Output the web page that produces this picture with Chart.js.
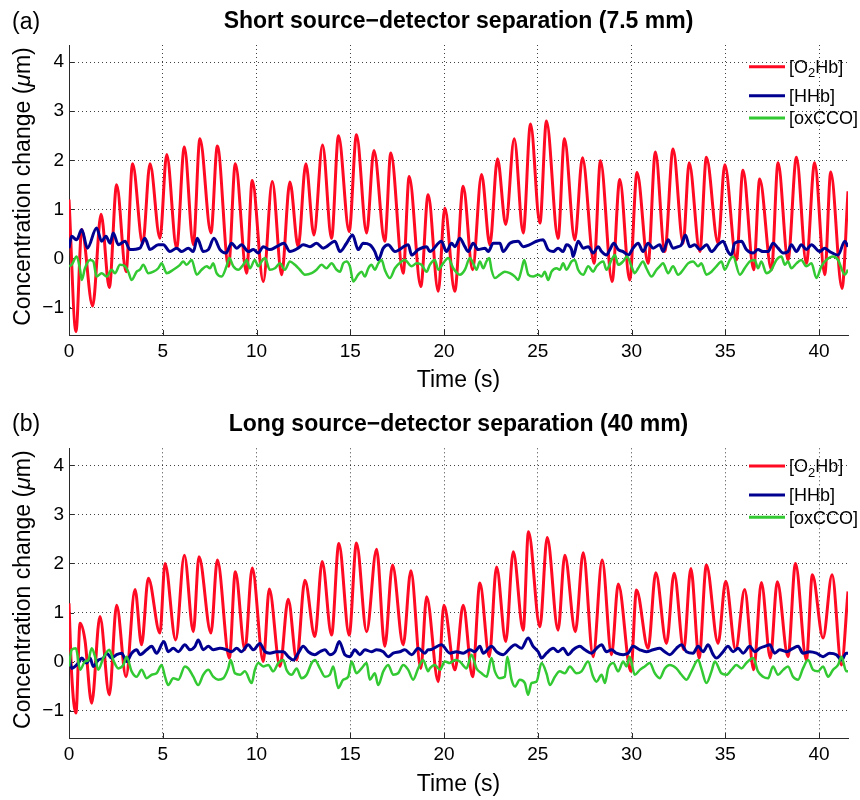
<!DOCTYPE html>
<html lang="en">
<head>
<meta charset="UTF-8">
<title>Short and long source-detector separation</title>
<script src="https://cdn.jsdelivr.net/npm/chart.js"></script>
<style>
  body { margin: 0; background: #fff; }
  canvas { display: block; }
</style>
</head>
<body>
<canvas id="chartA" width="860" height="400"></canvas>
<canvas id="chartB" width="860" height="400"></canvas>
<script>
// values: time (s) and concentration change (uM)

// (a) short separation, 7.5 mm
const aO2HbT = [0, 0.37, 0.68, 1.26, 1.71, 2.15, 2.54, 3.04, 3.39, 3.93, 4.32, 4.85, 5.21, 5.74, 6.15, 6.63, 6.98, 7.57, 7.91, 8.51, 8.87, 9.47, 9.77, 10.36, 10.84, 11.34, 11.78, 12.22, 12.63, 13.06, 13.52, 14.0, 14.37, 14.94, 15.33, 15.87, 16.26, 16.84, 17.16, 17.82, 18.14, 18.76, 19.15, 19.69, 20.04, 20.57, 21.02, 21.52, 22.0, 22.44, 22.85, 23.29, 23.74, 24.22, 24.61, 25.11, 25.46, 26.08, 26.42, 26.97, 27.38, 28.0, 28.34, 28.96, 29.37, 29.90, 30.29, 30.88, 31.27, 31.77, 32.21, 32.75, 33.07, 33.64, 33.99, 34.61, 34.97, 35.59, 35.94, 36.51, 36.83, 37.46, 37.81, 38.34, 38.79, 39.32, 39.76, 40.30, 40.62, 41.22, 41.54];
const aO2HbV = [1.20, -1.49, 0.59, -0.97, 0.90, -0.59, 1.50, -0.27, 1.93, 0.30, 1.93, 0.41, 2.12, 0.21, 2.27, 0.28, 2.44, 0.52, 2.29, -0.16, 1.93, -0.30, 1.59, -0.47, 1.57, -0.33, 1.56, 0.24, 1.93, 0.48, 2.31, 0.41, 2.50, 0.55, 2.52, 0.52, 2.20, 0.35, 2.15, -0.30, 1.67, -0.57, 1.30, -0.67, 1.03, -0.67, 1.47, -0.23, 1.71, 0.28, 2.03, 0.69, 2.44, 0.52, 2.74, 0.72, 2.80, 0.41, 2.44, 0.38, 2.05, -0.10, 1.99, -0.47, 1.61, -0.44, 1.75, -0.10, 2.17, 0.14, 2.23, 0.31, 1.95, 0.14, 2.06, 0.31, 1.91, -0.03, 1.80, -0.23, 1.62, -0.23, 1.95, -0.03, 2.06, -0.10, 1.95, -0.33, 1.76, -0.61, 1.37];

const aHHbT = [0, 0.14, 0.41, 0.68, 0.98, 1.47, 1.74, 1.97, 2.19, 2.36, 2.63, 2.99, 3.25, 3.78, 4.05, 4.32, 4.76, 5.03, 5.38, 5.74, 6.01, 6.36, 6.63, 6.84, 7.16, 7.43, 7.73, 8.05, 8.37, 8.67, 8.94, 9.20, 9.56, 9.83, 10.09, 10.36, 10.71, 11.07, 11.46, 11.78, 12.22, 12.49, 12.85, 13.20, 13.56, 14.18, 14.45, 14.80, 15.12, 15.42, 15.69, 16.04, 16.31, 16.49, 16.76, 17.02, 17.38, 18.09, 18.27, 18.62, 19.07,
  19.24, 19.86, 20.13, 20.40, 20.58, 20.84, 21.11, 21.29, 21.55, 21.82, 22.18, 22.36, 22.62, 22.98, 23.15, 23.51, 23.95, 24.22, 24.57, 24.93, 25.28, 25.55, 25.82, 26.08, 26.35, 26.53, 26.80, 26.88, 27.15, 27.42, 27.69, 27.95, 28.22, 28.40, 28.66, 28.84, 29.05, 29.29, 29.55, 29.82, 30.08, 30.35, 30.61, 30.88, 31.15, 31.50, 31.68, 31.95, 32.21, 32.48, 32.66, 32.87, 33.10, 33.37, 33.64, 34.00, 34.26, 34.61, 34.88, 35.14, 35.32, 35.50, 35.86, 36.12, 36.48, 36.74, 37.01, 37.28, 37.54, 37.81, 38.08, 38.34, 38.52, 38.79, 39.05, 39.32, 39.59, 40.03, 40.30, 40.56, 41.01, 41.37, 41.54];
const aHHbV = [0.21, 0.45, 0.38, 0.59, 0.21, 0.62, 0.35, 0.45, 0.31, 0.52, 0.28, 0.35, 0.18, 0.21, 0.41, 0.18, 0.28, 0.28, 0.14, 0.21, 0.14, 0.21, 0.14, 0.41, 0.14, 0.18, 0.41, 0.18, 0.11, 0.31, 0.21, 0.28, 0.14, 0.18, 0.11, 0.24, 0.18, 0.24, 0.31, 0.14, 0.21, 0.28, 0.24, 0.31, 0.21, 0.35, 0.14, 0.31, 0.48, 0.18, 0.31, 0.28, 0.14, -0.03, 0.21, 0.28, 0.14, 0.28, 0.07, 0.18, 0.24,
  0.14, 0.35, 0.14, 0.31, 0.24, 0.41, 0.24, 0.14, 0.31, 0.18, 0.21, 0.14, 0.31, 0.31, 0.14, 0.31, 0.35, 0.24, 0.28, 0.35, 0.38, 0.18, 0.14, 0.21, 0.14, 0.28, 0.18, 0.04, 0.35, 0.21, 0.24, 0.11, 0.24, 0.14, 0.07, 0.18, 0.31, 0.18, 0.14, 0.07, 0.21, 0.31, 0.14, 0.31, 0.21, 0.28, 0.14, 0.38, 0.21, 0.24, 0.28, 0.48, 0.24, 0.28, 0.18, 0.28, 0.14, 0.28, 0.35, 0.14, 0.07, 0.31, 0.35, 0.18, 0.11, 0.18, 0.14, 0.14, 0.31, 0.21, 0.11, 0.14, 0.28, 0.14, 0.28, 0.18, 0.28, 0.14, 0.21, 0.14, 0.07, 0.35, 0.24];

const aCCOT = [0, 0.14, 0.41, 0.59, 0.68, 0.85, 1.12, 1.30, 1.47, 1.74, 2.01, 2.27, 2.45, 2.72, 2.99, 3.16, 3.34, 3.61, 3.78, 3.96, 4.23, 4.50, 4.76, 4.94, 5.21, 5.56, 5.92, 6.09, 6.27, 6.54, 6.81, 7.07, 7.34, 7.52, 7.69, 7.87, 8.14, 8.40, 8.55, 8.76, 9.03, 9.29, 9.47, 9.65, 9.91, 10.09, 10.27, 10.45, 10.71, 10.98, 11.25, 11.51, 11.78, 12.05, 12.31, 12.58, 12.94, 13.20, 13.47, 13.73, 14.00, 14.27, 14.45, 14.62, 14.80, 14.98, 15.16, 15.42, 15.60, 15.78, 15.96, 16.13, 16.31, 16.49, 16.67, 16.84, 17.11, 17.38, 17.73, 17.91, 18.27, 18.53, 18.80, 19.07,
  19.24, 19.51, 19.69, 19.95, 20.22, 20.49, 20.84, 21.11, 21.38, 21.55, 21.73, 21.91, 22.09, 22.26, 22.41, 22.53, 22.71, 22.98, 23.24, 23.51, 23.78, 23.95, 24.13, 24.27, 24.49, 24.75, 25.02, 25.20, 25.37, 25.55, 25.73, 26.00, 26.17, 26.35, 26.53, 26.80, 26.97, 27.15, 27.42, 27.69, 27.95, 28.13, 28.49, 28.66, 28.93, 29.11, 29.29, 29.55, 29.76, 29.99, 30.17, 30.35, 30.61, 30.79, 31.06, 31.33, 31.50, 31.68, 31.95, 32.21, 32.48, 32.75, 33.01, 33.28, 33.55, 33.72, 33.99, 34.26, 34.52, 34.79, 34.97, 35.24, 35.41, 35.77, 36.03, 36.30, 36.57, 36.74, 36.92, 37.19, 37.46, 37.72, 37.99, 38.17, 38.34, 38.52, 38.79, 39.05, 39.32, 39.59, 39.86, 40.12, 40.39, 40.74, 41.01, 41.37, 41.54];
const aCCOV = [-0.16, -0.13, 0.04, -0.23, -0.44, -0.20, -0.03, -0.06, -0.37, -0.30, -0.37, -0.23, -0.30, -0.13, -0.16, -0.27, -0.44, -0.27, -0.23, -0.13, -0.30, -0.27, -0.20, -0.10, -0.30, -0.23, -0.13, -0.06, -0.13, -0.03, -0.33, -0.23, -0.16, -0.20, -0.10, -0.30, -0.37, -0.16, 0.01, -0.16, -0.23, -0.13, -0.03, -0.20, -0.03, -0.16, -0.06, 0.01, -0.23, -0.20, -0.10, -0.23, -0.06, -0.13, -0.23, -0.33, -0.30, -0.23, -0.13, -0.20, -0.10, -0.23, -0.27, -0.10, -0.06, -0.16, -0.47, -0.33, -0.27, -0.37, -0.20, -0.13, -0.23, -0.10, -0.03, -0.23, -0.40, -0.20, -0.06, -0.03, -0.16, -0.10, -0.13, -0.27,
  -0.13, -0.03, -0.23, -0.10, 0.01, -0.20, -0.33, -0.23, 0.01, -0.10, -0.23, -0.06, -0.20, -0.06, 0.01, -0.23, -0.40, -0.33, -0.27, -0.30, -0.37, -0.44, -0.23, -0.03, -0.33, -0.37, -0.33, -0.37, -0.27, -0.44, -0.27, -0.20, -0.23, -0.10, -0.23, -0.06, -0.03, -0.23, -0.33, -0.16, -0.27, -0.16, -0.06, -0.23, -0.03, 0.07, -0.13, -0.06, 0.04, -0.16, -0.30, -0.20, -0.06, -0.20, -0.37, -0.23, -0.16, -0.10, -0.30, -0.16, -0.33, -0.23, -0.10, -0.06, -0.16, -0.10, -0.33, -0.27, -0.16, -0.06, -0.23, -0.03, 0.04, -0.33, -0.20, -0.06, -0.03, -0.20, -0.06, -0.30, -0.23, -0.03, 0.04, -0.13, -0.06, -0.20, -0.10, -0.03, -0.16, -0.10, -0.40, -0.16, -0.03, 0.04, -0.03, -0.33, -0.23];

// (b) long separation, 40 mm
const bO2HbT = [0, 0.14, 0.37, 0.59, 0.85, 1.21, 1.65, 2.15, 2.54, 3.04, 3.52, 3.87, 4.23, 4.85, 5.12, 5.69, 6.15, 6.63, 6.93, 7.57, 7.91, 8.55, 8.87, 9.38, 9.77, 10.36, 10.68, 11.25, 11.69, 12.14, 12.58, 13.11, 13.50, 14.0, 14.39, 14.94, 15.33, 15.87, 16.40, 16.84, 17.25, 17.82, 18.23, 18.76, 19.07, 19.69, 19.99, 20.58, 21.02, 21.52, 21.91, 22.41, 22.80, 23.29, 23.69, 24.22, 24.50, 25.11, 25.50, 26.08, 26.44, 27.0, 27.42, 27.95, 28.43, 28.93, 29.29, 29.96, 30.26, 30.88, 31.29, 31.86, 32.27, 32.78, 33.16, 33.60, 33.99, 34.61, 35.02, 35.55, 36.03, 36.51, 36.92, 37.40, 37.77, 38.34, 38.74, 39.32, 39.64, 40.21, 40.69, 41.19, 41.54];
const bO2HbV = [1.19, -0.24, -1.05, 0.78, 0.44, -0.85, 0.92, -0.68, 1.15, -0.31, 1.47, 0.34, 1.70, 0.58, 2.0, 0.44, 2.17, 0.61, 2.14, 0.58, 2.07, 0.07, 1.83, 0.24, 1.91, 0.0, 1.48, -0.10, 1.27, 0.03, 1.66, 0.51, 2.04, 0.54, 2.41, 0.54, 2.42, 0.61, 2.29, 0.31, 1.97, 0.34, 1.85, -0.14, 1.32, -0.41, 1.15, -0.17, 1.15, -0.31, 1.60, 0.10, 1.93, 0.41, 2.24, 0.64, 2.65, 0.71, 2.53, 0.64, 2.17, 0.61, 2.22, 0.10, 2.07, 0.14, 1.58, -0.20, 1.46, 0.27, 1.81, 0.37, 1.80, 0.24, 1.90, 0.07, 1.97, 0.37, 1.64, 0.24, 1.47, -0.17, 1.61, 0.07, 1.63, 0.10, 2.0, 0.03, 1.77, 0.48, 1.77, -0.07, 1.43];

const bHHbT = [0, 0.14, 0.50, 0.68, 0.94, 1.12, 1.30, 1.56, 1.83, 2.01, 2.27, 2.54, 2.81, 3.07, 3.34, 3.61, 3.78, 4.14, 4.41, 4.67, 5.06, 5.29, 5.56, 5.83, 6.18, 6.45, 6.72, 6.89, 7.16, 7.43, 7.69, 8.05, 8.40, 8.67, 8.94, 9.20, 9.56, 9.83, 10.18, 10.45, 10.71, 11.07, 11.43, 11.69, 11.96, 12.22, 12.49, 12.76, 13.11, 13.38, 13.65, 13.91, 14.18, 14.41, 14.71, 14.98, 15.24, 15.51, 15.78, 16.13, 16.40, 16.76, 17.02, 17.29, 17.64, 17.91, 18.27, 18.62, 18.98, 19.15,
  19.24, 19.86, 20.31, 20.66, 21.02, 21.38, 21.64, 21.91, 22.09, 22.53, 22.80, 23.15, 23.51, 23.78, 24.13, 24.48, 24.75, 25.02, 25.20, 25.46, 25.82, 26.08, 26.35, 26.62, 26.88, 27.24, 27.51, 27.86, 28.13, 28.40, 28.66, 28.93, 29.19, 29.55, 29.82, 30.08, 30.44, 30.79, 31.15, 31.50, 31.77, 32.04, 32.39, 32.66, 32.93, 33.28, 33.55, 33.81, 34.08, 34.35, 34.52, 34.88, 35.14, 35.41, 35.68, 35.95, 36.30, 36.57, 36.83, 37.10, 37.37, 37.63, 37.90, 38.26, 38.61, 38.88, 39.14, 39.50, 39.86, 40.21, 40.56, 40.92, 41.19, 41.45, 41.54];
const bHHbV = [0.14, -0.14, -0.03, 0.07, -0.03, 0.07, -0.10, 0.03, 0.07, 0.17, 0.07, 0.14, 0.17, 0.0, 0.17, 0.24, 0.14, 0.24, 0.31, 0.17, 0.41, 0.20, 0.27, 0.20, 0.34, 0.24, 0.31, 0.44, 0.24, 0.31, 0.24, 0.27, 0.24, 0.20, 0.27, 0.20, 0.34, 0.24, 0.37, 0.20, 0.17, 0.20, 0.20, 0.10, 0.03, 0.17, 0.31, 0.20, 0.14, 0.20, 0.24, 0.14, 0.20, 0.41, 0.14, 0.10, 0.24, 0.14, 0.24, 0.20, 0.24, 0.20, 0.10, 0.17, 0.20, 0.24, 0.14, 0.27, 0.17, 0.24,
  0.24, 0.34, 0.17, 0.20, 0.17, 0.24, 0.20, 0.31, 0.17, 0.31, 0.20, 0.14, 0.27, 0.34, 0.27, 0.48, 0.31, 0.20, 0.07, 0.17, 0.27, 0.20, 0.27, 0.14, 0.24, 0.31, 0.24, 0.17, 0.27, 0.34, 0.20, 0.24, 0.17, 0.14, 0.17, 0.31, 0.24, 0.20, 0.24, 0.27, 0.20, 0.14, 0.27, 0.34, 0.20, 0.17, 0.31, 0.20, 0.34, 0.14, 0.07, 0.20, 0.31, 0.20, 0.27, 0.17, 0.31, 0.20, 0.27, 0.31, 0.34, 0.17, 0.24, 0.20, 0.27, 0.31, 0.17, 0.20, 0.17, 0.10, 0.17, 0.14, 0.03, 0.17, 0.17];

const bCCOT = [0, 0.14, 0.37, 0.59, 0.85, 1.03, 1.21, 1.39, 1.56, 1.83, 2.15, 2.36, 2.63, 2.90, 3.07, 3.34, 3.61, 3.87, 4.14, 4.41, 4.67, 4.94, 5.12, 5.29, 5.56, 5.83, 6.18, 6.36, 6.63, 6.89, 7.16, 7.43, 7.69, 7.96, 8.23, 8.49, 8.62, 8.85, 9.12, 9.38, 9.74, 9.91, 10.09, 10.36, 10.63, 10.89, 11.16, 11.43, 11.60, 11.87, 12.14, 12.40, 12.67, 12.94, 13.11, 13.38, 13.65, 13.91, 14.09, 14.36, 14.62, 14.89, 15.07, 15.33, 15.60, 15.87, 16.04, 16.31, 16.49, 16.76, 17.02, 17.29, 17.55, 17.82, 18.09, 18.35, 18.62, 18.89, 19.15,
  19.24, 19.51, 19.78, 20.04, 20.31, 20.58, 20.84, 21.20, 21.46, 21.73, 22.0, 22.27, 22.53, 22.71, 22.97, 23.24, 23.37, 23.60, 23.78, 24.04, 24.31, 24.48, 24.66, 24.93, 25.20, 25.46, 25.64, 25.91, 26.17, 26.44, 26.71, 27.06, 27.33, 27.68, 27.95, 28.13, 28.40, 28.58, 28.75, 29.02, 29.29, 29.55, 29.73, 29.90, 30.17, 30.44, 30.70, 30.97, 31.24, 31.50, 31.77, 32.04, 32.39, 32.66, 32.93, 33.19, 33.55, 33.72, 33.99, 34.26, 34.44, 34.79, 35.06, 35.32, 35.59, 35.86, 36.12, 36.48, 36.74, 37.01, 37.28, 37.54, 37.81, 38.08, 38.34, 38.61, 38.88, 39.14, 39.41, 39.68, 39.94, 40.21, 40.48, 40.74, 41.01, 41.19, 41.45, 41.54];
const bCCOV = [-0.10, 0.24, 0.27, -0.17, 0.0, 0.03, 0.27, 0.10, -0.17, 0.07, 0.24, 0.03, -0.14, -0.07, 0.10, -0.20, -0.31, -0.17, -0.34, -0.27, -0.24, -0.07, -0.31, -0.48, -0.34, -0.37, -0.10, -0.14, -0.31, -0.48, -0.27, -0.17, -0.31, -0.37, -0.34, -0.14, 0.03, -0.24, -0.27, -0.20, -0.44, -0.17, -0.03, -0.10, -0.07, -0.20, -0.03, 0.03, -0.17, -0.27, -0.14, -0.34, -0.27, -0.03, 0.03, -0.14, -0.31, -0.27, -0.10, -0.54, -0.37, -0.31, 0.0, -0.24, -0.14, -0.03, -0.37, -0.24, -0.48, -0.20, -0.07, -0.27, -0.24, -0.07, -0.17, -0.37, -0.14, 0.03, -0.20,
  -0.14, -0.07, -0.17, 0.0, -0.03, 0.03, 0.0, -0.14, 0.14, -0.14, -0.24, -0.31, 0.07, -0.20, -0.34, -0.31, 0.10, -0.37, -0.51, -0.37, -0.44, -0.68, -0.44, -0.41, -0.03, -0.24, -0.48, -0.31, -0.20, -0.24, -0.10, -0.24, -0.20, 0.0, -0.31, -0.41, -0.27, -0.44, -0.14, -0.03, -0.20, 0.0, -0.10, 0.10, -0.27, -0.17, -0.10, -0.03, -0.24, -0.34, -0.14, -0.07, -0.14, -0.27, -0.37, -0.20, 0.03, -0.14, -0.44, -0.20, 0.0, -0.24, -0.27, -0.17, -0.07, -0.14, -0.03, 0.07, -0.20, -0.31, -0.34, -0.10, -0.27, -0.17, -0.10, -0.31, -0.37, -0.14, 0.03, -0.17, -0.20, -0.10, -0.31, -0.17, -0.07, 0.10, -0.20, -0.20];

const xTickStep = 5;
const yTickStep = 1;
const xRange = [0, 41.54];
const yRange = [-1.56, 4.35];

const FONT = '"Liberation Sans", Arial, Helvetica, sans-serif';
const RED = '#ff0a22';
const NAVY = '#000090';
const GREEN = '#33c933';
const AXIS = '#2a2a2a';

function pts(t, v) {
    return t.map((x, i) => ({ x: x, y: v[i] }));
}

// panel letter, inward tick marks, rotated y title (italic mu) and the legend inside the plot
const panelDecor = {
    id: 'panelDecor',
    beforeDatasetsDraw(chart) {
        // short inward ticks, MATLAB style
        const ctx = chart.ctx;
        const area = chart.chartArea;
        const xs = chart.scales.x, ys = chart.scales.y;
        ctx.save();
        ctx.strokeStyle = AXIS;
        ctx.lineWidth = 1;
        ctx.beginPath();
        xs.ticks.forEach(t => {
            const px = Math.round(xs.getPixelForValue(t.value)) + 0.5;
            ctx.moveTo(px, area.bottom);
            ctx.lineTo(px, area.bottom - 5);
        });
        ys.ticks.forEach(t => {
            const py = Math.round(ys.getPixelForValue(t.value)) + 0.5;
            ctx.moveTo(area.left, py);
            ctx.lineTo(area.left + 5, py);
        });
        ctx.stroke();
        ctx.restore();
    },
    afterDatasetsDraw(chart, args, opts) {
        const ctx = chart.ctx;
        const area = chart.chartArea;
        ctx.save();
        ctx.fillStyle = '#000';
        ctx.textAlign = 'left';
        ctx.textBaseline = 'middle';
        ctx.font = '23px ' + FONT;
        ctx.fillText(opts.letter, 12, opts.letterY);

        // y axis title
        const parts = [['Concentration change (', ''], ['\u03bc', 'italic '], ['m)', '']];
        let total = 0;
        parts.forEach(p => { ctx.font = p[1] + '23px ' + FONT; total += ctx.measureText(p[0]).width; });
        ctx.translate(24, (area.top + area.bottom) / 2 - 3.5);
        ctx.rotate(-Math.PI / 2);
        let x = -total / 2;
        parts.forEach(p => {
            ctx.font = p[1] + '23px ' + FONT;
            ctx.fillText(p[0], x, 0);
            x += ctx.measureText(p[0]).width;
        });
        ctx.setTransform(1, 0, 0, 1, 0, 0);

        // legend
        const rows = [0, 29, 51.3];
        chart.data.datasets.forEach((ds, i) => {
            const y = opts.legendY + rows[i];
            ctx.strokeStyle = ds.borderColor;
            ctx.lineWidth = 3;
            ctx.beginPath();
            ctx.moveTo(749, y);
            ctx.lineTo(785, y);
            ctx.stroke();
            ctx.textBaseline = 'alphabetic';
            let tx = 789;
            ds.legendParts.forEach(p => {
                ctx.font = (p.sub ? '13px ' : '18px ') + FONT;
                ctx.fillText(p.text, tx, y + (p.sub ? 10.5 : 6.2));
                tx += ctx.measureText(p.text).width;
            });
        });
        ctx.restore();
    }
};

function makeChart(id, cfg) {
    const ctx = document.getElementById(id).getContext('2d');
    return new Chart(ctx, {
        type: 'line',
        data: {
            datasets: [{
                label: '[O2Hb]',
                legendParts: [{ text: '[O' }, { text: '2', sub: true }, { text: 'Hb]' }],
                data: pts(cfg.o2hb[0], cfg.o2hb[1]),
                borderColor: RED,
                borderWidth: 3,
                cubicInterpolationMode: 'monotone',
                order: 2
            }, {
                label: '[HHb]',
                legendParts: [{ text: '[HHb]' }],
                data: pts(cfg.hhb[0], cfg.hhb[1]),
                borderColor: NAVY,
                borderWidth: 3,
                cubicInterpolationMode: 'monotone',
                order: 1
            }, {
                label: '[oxCCO]',
                legendParts: [{ text: '[oxCCO]' }],
                data: pts(cfg.cco[0], cfg.cco[1]),
                borderColor: GREEN,
                borderWidth: 2.5,
                cubicInterpolationMode: 'monotone',
                order: 0
            }]
        },
        options: {
            responsive: false,
            animation: false,
            events: [],
            elements: { point: { radius: 0 } },
            layout: { padding: { left: 0, right: 12, top: 0, bottom: 0 } },
            plugins: {
                legend: { display: false },
                tooltip: { enabled: false },
                title: {
                    display: true,
                    text: cfg.title,
                    fullSize: false,
                    color: '#000',
                    font: { family: FONT, size: 23, weight: 'bold' },
                    padding: cfg.titlePad
                },
                panelDecor: { letter: cfg.letter, letterY: cfg.letterY, legendY: cfg.legendY }
            },
            scales: {
                x: {
                    type: 'linear',
                    min: xRange[0],
                    max: xRange[1],
                    afterFit: s => { s.height = cfg.xHeight; },
                    ticks: {
                        stepSize: xTickStep,
                        includeBounds: false,
                        color: '#000',
                        padding: cfg.xTickPad,
                        maxRotation: 0,
                        font: { family: FONT, size: 19 }
                    },
                    grid: { color: 'rgba(0,0,0,0.75)', lineWidth: 1, drawTicks: false },
                    border: { display: true, color: AXIS, width: 1, dash: [1, 3] },
                    title: {
                        display: true,
                        text: 'Time (s)',
                        color: '#000',
                        font: { family: FONT, size: 23 },
                        padding: { top: 0, bottom: cfg.xTitlePad }
                    }
                },
                y: {
                    min: yRange[0],
                    max: yRange[1],
                    afterFit: s => { s.width = 69; },
                    ticks: {
                        stepSize: yTickStep,
                        includeBounds: false,
                        color: '#000',
                        padding: 5,
                        font: { family: FONT, size: 19 },
                        callback: v => String(v).replace('-', '\u2212')
                    },
                    grid: { color: 'rgba(0,0,0,0.75)', lineWidth: 1, drawTicks: false },
                    border: { display: true, color: AXIS, width: 1, dash: [1, 3] }
                }
            }
        },
        plugins: [panelDecor]
    });
}

makeChart('chartA', {
    title: 'Short source\u2212detector separation (7.5 mm)',
    letter: '(a)', letterY: 23, legendY: 66.7,
    titlePad: { top: 8.2, bottom: 9.2 },
    xHeight: 65, xTickPad: 5.6, xTitlePad: 5.2,
    o2hb: [aO2HbT, aO2HbV], hhb: [aHHbT, aHHbV], cco: [aCCOT, aCCOV]
});

makeChart('chartB', {
    title: 'Long source\u2212detector separation (40 mm)',
    letter: '(b)', letterY: 25, legendY: 66,
    titlePad: { top: 11.2, bottom: 9.5 },
    xHeight: 62, xTickPad: 5.1, xTitlePad: 1.2,
    o2hb: [bO2HbT, bO2HbV], hhb: [bHHbT, bHHbV], cco: [bCCOT, bCCOV]
});
</script>
</body>
</html>
